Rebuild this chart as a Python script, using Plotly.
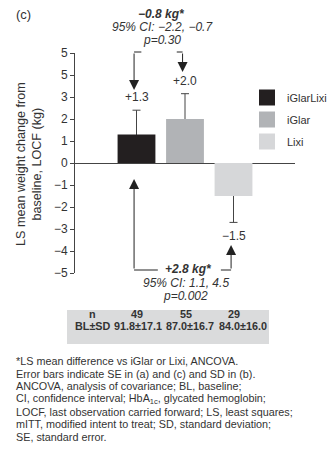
import plotly.graph_objects as go

# ---- data -------------------------------------------------------------
categories = ["iGlarLixi", "iGlar", "Lixi"]
ls_mean_change = [1.3, 2.0, -1.5]          # kg, LS mean change from baseline
se = [1.1, 1.15, 1.2]                       # standard error
bar_colors = ["#231f20", "#b1b3b6", "#d6d7d9"]
n_patients = [49, 55, 29]
bl_mean = [91.8, 87.0, 84.0]
bl_sd = [17.1, 16.7, 16.0]

y_tick_vals = [-5, -4, -3, -2, -1, 0, 1, 2, 3, 4, 5]
y_tick_text = ["−5", "−4", "−3", "−2", "−1", "0", "1", "2", "3", "5", "5"]

diff_top = ["<b><i>−0.8 kg*</i></b>", "<i>95% CI: −2.2, −0.7</i>", "<i>p=0.30</i>"]
diff_bottom = ["<b><i>+2.8 kg*</i></b>", "<i>95% CI: 1.1, 4.5</i>", "<i>p=0.002</i>"]

footnotes = [
    "*LS mean difference vs iGlar or Lixi, ANCOVA.",
    "Error bars indicate SE in (a) and (c) and SD in (b).",
    "ANCOVA, analysis of covariance; BL, baseline;",
    "CI, confidence interval; HbA<sub>1c</sub>, glycated hemoglobin;",
    "LOCF, last observation carried forward; LS, least squares;",
    "mITT, modified intent to treat; SD, standard deviation;",
    "SE, standard error.",
]

# ---- page geometry helpers (pixels -> paper fractions) -----------------
W, H = 329, 449
FONT = "Arial"
TXT = "#333333"


def px(x):
    return x / W


def py(y):
    return 1 - y / H


BAR_W = 0.78

fig = go.Figure()

# SE whiskers sit behind the bars so only the outer half shows
fig.add_trace(go.Bar(
    x=categories, y=ls_mean_change, width=BAR_W,
    marker=dict(color="rgba(0,0,0,0)", line=dict(width=0)),
    error_y=dict(type="data", array=se, visible=True,
                 color="#444444", thickness=1, width=4),
    showlegend=False, hoverinfo="skip",
))

for cat, val, col in zip(categories, ls_mean_change, bar_colors):
    fig.add_trace(go.Bar(
        x=[cat], y=[val], width=BAR_W, name=cat, legendgroup=cat,
        marker=dict(color=col, line=dict(width=0)), showlegend=False,
    ))
    # large square swatch for the legend entry
    fig.add_trace(go.Scatter(
        x=[None], y=[None], mode="markers", name=cat, legendgroup=cat,
        marker=dict(symbol="square", size=18, color=col),
        showlegend=True, hoverinfo="skip",
    ))

ann = []
shapes = []

# value labels beyond the whiskers
for i, (v, e) in enumerate(zip(ls_mean_change, se)):
    label = f"{v:+.1f}".replace("-", "−")
    up = v >= 0
    ann.append(dict(
        x=i, y=v + e if up else v - e, xref="x", yref="y",
        text=label, showarrow=False, xanchor="center",
        yanchor="bottom" if up else "top",
        yshift=4 if up else -5,
        font=dict(size=12, color=TXT, family=FONT),
    ))

# bracket: iGlarLixi vs iGlar (top)
ARROW_DX = -0.05
top_y = 52
shapes.append(dict(type="line", xref="x", yref="paper",
                   x0=0 + ARROW_DX, x1=0.10, y0=py(top_y), y1=py(top_y),
                   line=dict(color="#222", width=1)))
shapes.append(dict(type="line", xref="x", yref="paper",
                   x0=0.83, x1=1 + ARROW_DX, y0=py(top_y), y1=py(top_y),
                   line=dict(color="#222", width=1)))
for i, tip in [(0, 90), (1, 72)]:
    ann.append(dict(x=i + ARROW_DX, y=py(tip), xref="x", yref="paper",
                    ax=0, ay=top_y - tip, axref="pixel", ayref="pixel",
                    text="", showarrow=True, arrowhead=2, arrowsize=2,
                    arrowwidth=1, arrowcolor="#222", standoff=0))

# bracket: iGlarLixi vs Lixi (bottom)
bot_y = 270
shapes.append(dict(type="line", xref="x", yref="paper",
                   x0=0 + ARROW_DX, x1=0.44, y0=py(bot_y), y1=py(bot_y),
                   line=dict(color="#222", width=1)))
shapes.append(dict(type="line", xref="x", yref="paper",
                   x0=1.74, x1=2 + ARROW_DX, y0=py(bot_y), y1=py(bot_y),
                   line=dict(color="#222", width=1)))
for i, tip in [(0, 179), (2, 245)]:
    ann.append(dict(x=i + ARROW_DX, y=py(tip), xref="x", yref="paper",
                    ax=0, ay=bot_y - tip, axref="pixel", ayref="pixel",
                    text="", showarrow=True, arrowhead=2, arrowsize=2,
                    arrowwidth=1, arrowcolor="#222", standoff=0))

for txt, (x, y) in zip(diff_top, [(161.5, 14), (162, 27), (161.5, 40)]):
    ann.append(dict(x=px(x), y=py(y), xref="paper", yref="paper",
                    text=txt, showarrow=False, xanchor="center", yanchor="middle",
                    font=dict(size=12, color=TXT, family=FONT)))
for txt, (x, y) in zip(diff_bottom, [(188.5, 269), (186, 283), (185, 296)]):
    ann.append(dict(x=px(x), y=py(y), xref="paper", yref="paper",
                    text=txt, showarrow=False, xanchor="center", yanchor="middle",
                    font=dict(size=12, color=TXT, family=FONT)))

# panel tag and y-axis title
ann.append(dict(x=px(14), y=py(14), xref="paper", yref="paper", text="(c)",
                showarrow=False, xanchor="left", yanchor="middle",
                font=dict(size=13, color=TXT, family=FONT)))
ann.append(dict(x=px(29), y=py(164), xref="paper", yref="paper",
                text="LS mean weight change from<br>baseline, LOCF (kg)",
                textangle=-90, showarrow=False, xanchor="center", yanchor="middle",
                font=dict(size=12.6, color=TXT, family=FONT)))

# baseline table under the plot
shapes.append(dict(type="rect", xref="paper", yref="paper",
                   x0=px(67), x1=px(269), y0=py(344), y1=py(310),
                   fillcolor="#dadbdc", line=dict(width=0), layer="below"))
row_n, row_bl = 322, 334
TFONT = dict(size=10.8, color=TXT, family=FONT)
ann.append(dict(x=px(92.7), y=py(row_n), xref="paper", yref="paper",
                xanchor="center", text="<b>n</b>", showarrow=False, font=TFONT))
ann.append(dict(x=px(92.5), y=py(row_bl), xref="paper", yref="paper",
                xanchor="center", text="<b>BL±SD</b>", showarrow=False, font=TFONT))
n_cols = [137, 186, 234]
bl_cols = [137.5, 189.5, 242.5]
for n, m, s, xn, xb in zip(n_patients, bl_mean, bl_sd, n_cols, bl_cols):
    ann.append(dict(x=px(xn), y=py(row_n), xref="paper", yref="paper",
                    xanchor="center", text=f"<b>{n}</b>", showarrow=False,
                    font=TFONT))
    ann.append(dict(x=px(xb), y=py(row_bl), xref="paper", yref="paper",
                    xanchor="center", text=f"<b>{m:.1f}±{s:.1f}</b>",
                    showarrow=False, font=TFONT))

# footnotes
for k, line in enumerate(footnotes):
    ann.append(dict(x=px(14), y=py(361 + k * 12.67), xref="paper", yref="paper",
                    text=line, showarrow=False, xanchor="left", yanchor="middle",
                    font=dict(size=10.8, color=TXT, family=FONT)))

fig.update_layout(
    width=W, height=H,
    margin=dict(l=0, r=0, t=0, b=0, autoexpand=False),
    paper_bgcolor="white", plot_bgcolor="white",
    barmode="overlay",
    font=dict(family=FONT, size=12, color=TXT),
    xaxis=dict(domain=[px(75), px(295)], range=[-1.268, 3.268],
               type="category", categoryorder="array", categoryarray=categories,
               showticklabels=False, showline=False, showgrid=False,
               zeroline=False, ticks=""),
    yaxis=dict(domain=[py(273), py(53)], range=[-5, 5],
               tickvals=y_tick_vals, ticktext=y_tick_text,
               showline=True, linecolor="#444", linewidth=1,
               ticks="outside", ticklen=4, tickwidth=1, tickcolor="#444",
               showgrid=False, zeroline=True, zerolinecolor="#444",
               zerolinewidth=1, tickfont=dict(size=12, color=TXT, family=FONT)),
    legend=dict(x=px(247), y=py(83), xanchor="left", yanchor="top",
                font=dict(size=11, color=TXT, family=FONT),
                bgcolor="rgba(0,0,0,0)", traceorder="grouped",
                tracegroupgap=3),
    annotations=ann,
    shapes=shapes,
)

fig.write_html("out.html")
